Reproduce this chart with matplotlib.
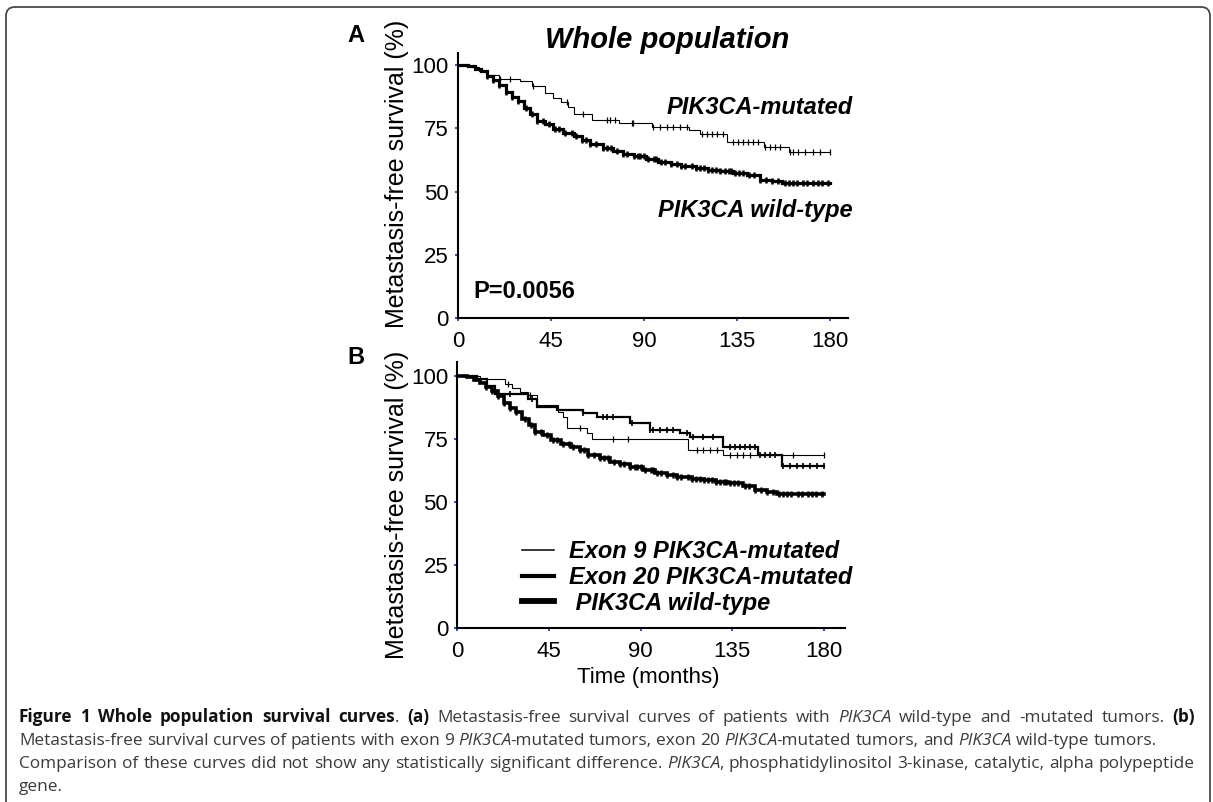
import numpy as np
import matplotlib
matplotlib.use("Agg")
import matplotlib.pyplot as plt
from matplotlib.patches import FancyBboxPatch

W, H = 1213, 802

# ---- data (months, % metastasis-free) ----
# PIK3CA wild-type, same curve in both panels
wt_t = [0, 5, 8, 11, 14, 17, 20, 23, 26, 29, 32, 35, 38, 42, 46, 51, 56, 60, 64,
        70, 75, 80, 85, 91, 97, 103, 108, 115, 121, 127, 133, 140, 146, 152, 157, 180]
wt_s = [100, 99.5, 98.5, 97.4, 95.8, 94.1, 92, 89.5, 87.5, 85.7, 83, 80.5, 78, 76.5,
        74.6, 73.2, 72, 70.5, 68.7, 67.3, 66, 65, 64.1, 62.8, 61.6, 60.8, 60, 59.3,
        58.7, 58, 57.4, 56.5, 54.7, 54, 53.2, 53.2]
wt_cens = [14, 17, 20, 23, 26, 29, 33, 36, 38, 41, 44, 47, 49, 52, 55, 57, 60, 62, 64,
           67, 70, 72, 74, 77, 80, 82, 85, 87, 88, 90, 92, 95, 96, 98, 100, 103, 106,
           108, 110, 113, 115, 117, 119, 121, 123, 125, 127, 129, 131, 132, 134, 136,
           138, 141, 143, 146, 149, 152, 155, 158, 160, 162, 164, 167, 169, 172, 174,
           176, 179]

# PIK3CA-mutated (panel A)
mut_t = [0, 6, 10, 14, 20, 30, 36, 42, 46, 50, 53, 56, 65, 78, 94, 112, 117, 130,
         148, 160, 180]
mut_s = [100, 99, 97.5, 96, 94.5, 93.5, 91.5, 89, 87, 85.5, 83.4, 80.8, 78.4, 77.1,
         75.5, 74.2, 72.9, 69.6, 67.6, 65.6, 65.6]
mut_cens = [20.3, 25.2, 36.4, 52.6, 60.6, 71.9, 73.5, 75.9, 84, 84.8, 94.5, 97.7,
            100.9, 104.2, 107.4, 110.6, 117.9, 120.3, 122.7, 125.1, 128.4, 133.2,
            135.6, 138, 140.5, 142.9, 145.3, 148.5, 150.9, 153.4, 155.8, 160.6, 162.2,
            164.6, 167.9, 172, 175.2, 180]

# exon 9 PIK3CA-mutated (panel B)
ex9_t = [0, 11, 23.4, 26.7, 30.8, 34.9, 38.9, 49.6, 52, 53.7, 63.5, 66, 113.4, 130.6, 180]
ex9_s = [100, 98.7, 97, 95.4, 93.5, 92.5, 88.5, 85.9, 83.9, 79.3, 77.3, 74.9, 70.8,
         68.5, 68.5]
ex9_cens = [25, 35.7, 60.2, 76.6, 84, 117.5, 120.8, 124, 127.3, 133.9, 137.1, 140.4,
            143.7, 165, 180]

# exon 20 PIK3CA-mutated (panel B)
ex20_t = [0, 9.5, 14.4, 18.5, 34.9, 38.9, 48.8, 61.9, 68.4, 84.8, 94.6, 109.3, 114.2,
          130.6, 147.7, 159.2, 180]
ex20_s = [100, 98.7, 96, 92.7, 91, 87.7, 86.4, 85.4, 83.8, 81.2, 78.6, 77.3, 76, 71.8,
          68.8, 64.4, 64.4]
ex20_cens = [20, 25.9, 36.5, 61.9, 71.7, 73.5, 76.6, 85.6, 94.6, 96.2, 99.5, 102.8,
             106, 112.6, 115.9, 120.8, 125.7, 133.9, 136.3, 138.8, 141.2, 143.7, 146.1,
             148.6, 151, 153.5, 155.9, 160, 163.3, 166.6, 169.9, 173.1, 176.4, 180]

x_ticks = [0, 45, 90, 135, 180]
y_ticks = [0, 25, 50, 75, 100]

legend_labels = ["Exon 9 PIK3CA-mutated", "Exon 20 PIK3CA-mutated", " PIK3CA wild-type"]

caption_lines = [
    "**Figure 1 Whole population survival curves**. **(a)** Metastasis-free survival curves "
    "of patients with *PIK3CA* wild-type and -mutated tumors. **(b)**",
    "Metastasis-free survival curves of patients with exon 9 *PIK3CA*-mutated tumors, "
    "exon 20 *PIK3CA*-mutated tumors, and *PIK3CA* wild-type tumors.",
    "Comparison of these curves did not show any statistically significant difference. "
    "*PIK3CA*, phosphatidylinositol 3-kinase, catalytic, alpha polypeptide",
    "gene.",
]
caption_justify = [True, False, True, False]

ARIAL = "Liberation Sans"
TICK_BLUE = "#2545a8"

fig = plt.figure(figsize=(W / 100, H / 100), dpi=100)

# background axes in pixel coordinates for border, labels and caption
bg = fig.add_axes([0, 0, 1, 1])
bg.set_xlim(0, W)
bg.set_ylim(H, 0)
bg.axis("off")
bg.add_patch(FancyBboxPatch((6, 7), 1204, 830, boxstyle="round,pad=0,rounding_size=9",
                            fc="none", ec="#4a4a4a", lw=1.3))


def px_axes(l, t, r, b):
    return fig.add_axes([l / W, 1 - b / H, (r - l) / W, (b - t) / H])


def style_axes(ax, xmax, ymax):
    ax.set_xlim(0, xmax)
    ax.set_ylim(0, ymax)
    for s in ["top", "right"]:
        ax.spines[s].set_visible(False)
    for s in ["left", "bottom"]:
        ax.spines[s].set_linewidth(1.5)
    ax.set_xticks(x_ticks)
    ax.set_yticks(y_ticks)
    ax.tick_params(length=2.5, width=1.3, color=TICK_BLUE, labelsize=16,
                   labelfontfamily=ARIAL)
    ax.tick_params(axis="y", pad=4)
    ax.tick_params(axis="x", pad=7)
    ax.patch.set_alpha(0)


def km(ax, t, s, cens, lw, ms, mew, label=None):
    ax.step(t, s, where="post", color="k", lw=lw, label=label, solid_joinstyle="miter")
    t = np.asarray(t)
    s = np.asarray(s)
    idx = np.searchsorted(t, cens, side="right") - 1
    ax.plot(cens, s[idx], ls="none", marker="|", ms=ms, mew=mew, color="k")


# ---- panel A ----
axA = px_axes(458, 53, 848, 318.3)
style_axes(axA, 188.7, 104.7)
km(axA, mut_t, mut_s, mut_cens, 0.8, 5, 0.9)
km(axA, wt_t, wt_s, wt_cens, 2.3, 5, 1.8)

# ---- panel B ----
axB = px_axes(457.3, 362, 845, 628)
style_axes(axB, 190.3, 105.6)
km(axB, ex9_t, ex9_s, ex9_cens, 0.8, 5, 0.9, legend_labels[0])
km(axB, ex20_t, ex20_s, ex20_cens, 1.6, 5, 1.2, legend_labels[1])
km(axB, wt_t, wt_s, wt_cens, 2.6, 5, 1.8, legend_labels[2])
leg = axB.legend(loc="upper left", bbox_to_anchor=(522, 540), bbox_transform=bg.transData,
                 frameon=False, borderpad=0, borderaxespad=0, handlelength=1.35,
                 handletextpad=0.62, labelspacing=0.12,
                 prop=dict(family=ARIAL, weight="bold", style="italic", size=17))
for line, lw in zip(leg.get_lines(), [1.1, 3.0, 4.2]):
    line.set_linewidth(lw)

# ---- panel text ----
bold = dict(family=ARIAL, weight="bold")
bi = dict(family=ARIAL, weight="bold", style="italic")
bg.text(356, 36, "A", ha="center", va="center", size=17, **bold)
bg.text(356, 358, "B", ha="center", va="center", size=17, **bold)
bg.text(667, 40, "Whole population", ha="center", va="center", size=21, **bi)
bg.text(853, 108, "PIK3CA-mutated", ha="right", va="center", size=17, **bi)
bg.text(853, 210, "PIK3CA wild-type", ha="right", va="center", size=17, **bi)
bg.text(473, 292, "P=0.0056", ha="left", va="center", size=17, **bold)
bg.text(397, 174, "Metastasis-free survival (%)", rotation=90, ha="center", va="center",
        size=18, family=ARIAL)
bg.text(397, 505, "Metastasis-free survival (%)", rotation=90, ha="center", va="center",
        size=18, family=ARIAL)
bg.text(648, 677, "Time (months)", ha="center", va="center", size=16, family=ARIAL)

# ---- caption with mixed styles ----
CAP_FONT = "Open Sans"
CAP_SIZE = 12.4
cap_styles = {
    "r": dict(family=CAP_FONT, color="#3a3a3a"),
    "b": dict(family=CAP_FONT, weight="bold", color="#111111"),
    "i": dict(family=CAP_FONT, style="italic", color="#3a3a3a"),
}


def parse(line):
    words = []
    style = "r"
    for w in line.split(" "):
        pieces, buf, i = [], "", 0
        while i < len(w):
            if w.startswith("**", i):
                if buf:
                    pieces.append((buf, style))
                    buf = ""
                style = "r" if style == "b" else "b"
                i += 2
            elif w[i] == "*":
                if buf:
                    pieces.append((buf, style))
                    buf = ""
                style = "r" if style == "i" else "i"
                i += 1
            else:
                buf += w[i]
                i += 1
        if buf:
            pieces.append((buf, style))
        words.append(pieces)
    return words


renderer = fig.canvas.get_renderer()
left, right = 19, 1195
base0, step = 722, 23
space = 4.4
for k, line in enumerate(caption_lines):
    words = parse(line)
    y = base0 + k * step
    arts = []
    widths = []
    for pieces in words:
        wa = []
        ww = 0
        for txt, st in pieces:
            a = bg.text(0, y, txt, ha="left", va="baseline", size=CAP_SIZE, **cap_styles[st])
            wpx = a.get_window_extent(renderer).width
            if st == "i" and len(pieces) > 1:
                wpx -= 1.5
            wa.append((a, wpx))
            ww += wpx
        arts.append(wa)
        widths.append(ww)
    gap = space
    if caption_justify[k] and len(words) > 1:
        gap = (right - left - sum(widths)) / (len(words) - 1)
    x = left
    for wa, ww in zip(arts, widths):
        xx = x
        for a, wpx in wa:
            a.set_x(xx)
            xx += wpx
        x += ww + gap

fig.savefig("out.png", dpi=100)
